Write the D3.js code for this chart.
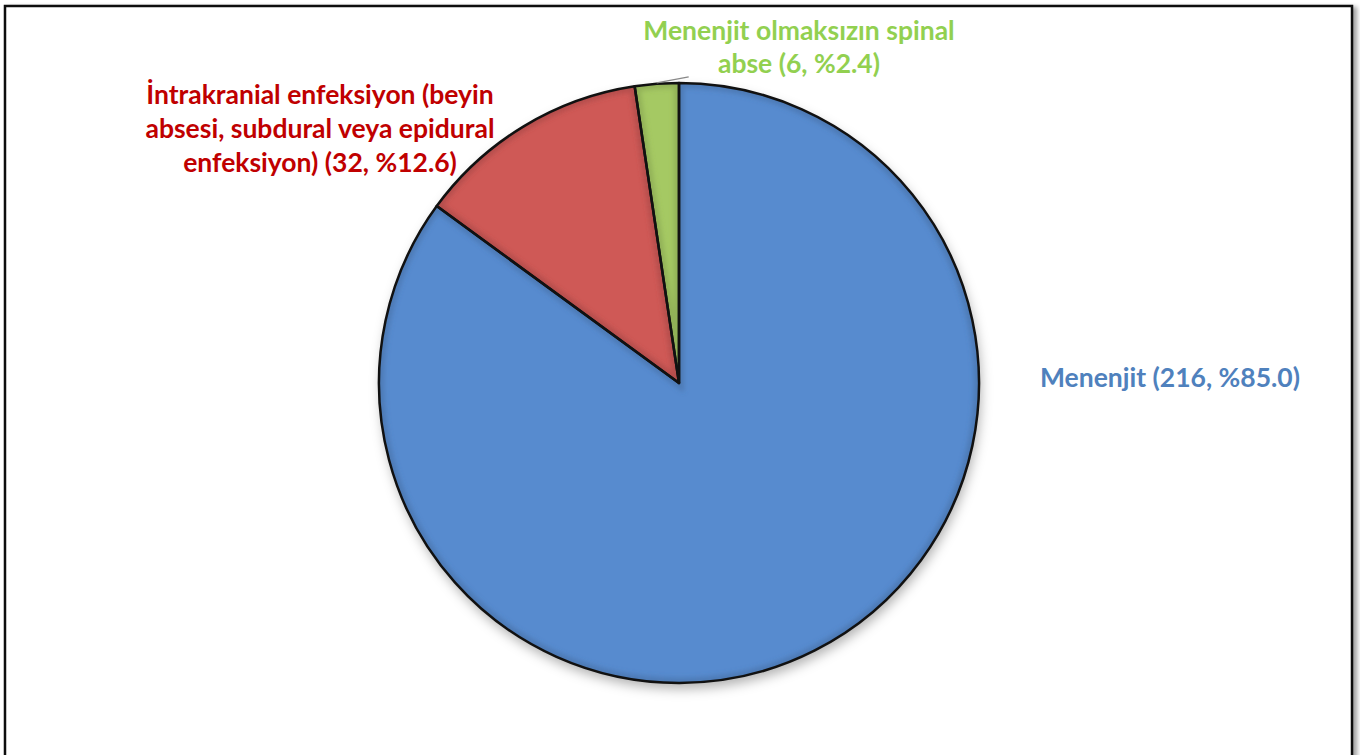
<!DOCTYPE html>
<html lang="tr">
<head>
<meta charset="utf-8">
<script src="https://d3js.org/d3.v7.min.js"></script>
<style>
  body { margin: 0; background: #fff; }
  .lbl { font-family: Lato, "Open Sans", sans-serif; font-weight: bold; font-size: 26.5px; }
</style>
</head>
<body>
<svg id="chart" width="1360" height="755"></svg>
<script>
  // data
  let categories = ["Menenjit", "İntrakranial enfeksiyon (beyin absesi, subdural veya epidural enfeksiyon)", "Menenjit olmaksızın spinal abse"]
  let counts = [216, 32, 6]
  let percents = ["85.0", "12.6", "2.4"]
  let labelLines = [
    ["Menenjit (216, %85.0)"],
    ["İntrakranial enfeksiyon (beyin", "absesi, subdural veya epidural", "enfeksiyon) (32, %12.6)"],
    ["Menenjit olmaksızın spinal", "abse (6, %2.4)"]
  ]
  let sliceColors = ["#578bcf", "#cf5956", "#a5c963"]
  let textColors = ["#4f81bd", "#c00000", "#92d050"]

  let svg = d3.select("#chart")
  let defs = svg.append("defs")

  // outer frame with shadow on the right
  let shadow = defs.append("filter").attr("id", "frameShadow").attr("x", "-5%").attr("y", "-5%").attr("width", "110%").attr("height", "110%")
  shadow.append("feDropShadow").attr("dx", 4).attr("dy", 2).attr("stdDeviation", 2).attr("flood-color", "#000").attr("flood-opacity", 0.35)
  svg.append("rect").attr("x", 5).attr("y", 6).attr("width", 1347).attr("height", 800)
    .attr("fill", "#fff").attr("stroke", "#111").attr("stroke-width", 2.5).attr("filter", "url(#frameShadow)")

  let pieShadow = defs.append("filter").attr("id", "pieShadow").attr("x", "-10%").attr("y", "-10%").attr("width", "120%").attr("height", "125%")
  pieShadow.append("feDropShadow").attr("dx", 2).attr("dy", 6).attr("stdDeviation", 6).attr("flood-color", "#000").attr("flood-opacity", 0.3)
  let soft = defs.append("filter").attr("id", "soft").attr("x", "-10%").attr("y", "-10%").attr("width", "120%").attr("height", "120%")
  soft.append("feGaussianBlur").attr("stdDeviation", 2.5)

  let cx = 679, cy = 383, r = 300
  let pie = d3.pie().sort(null).value(d => d)
  let arcs = pie(counts)
  let arcMaker = d3.arc().innerRadius(0).outerRadius(r)

  let g = svg.append("g").attr("transform", `translate(${cx}, ${cy})`)
  g.append("circle").attr("r", r).attr("fill", "#fff").attr("filter", "url(#pieShadow)")

  // slice bodies
  g.selectAll(".slice").data(arcs).enter().append("path").attr("class", "slice")
    .attr("d", arcMaker).attr("fill", (d, i) => sliceColors[i])
  // soft bevel inside each slice (clip paths share the group's coordinates)
  defs.selectAll(".clip").data(arcs).enter().append("clipPath").attr("class", "clip").attr("id", (d, i) => "clip" + i)
    .append("path").attr("d", arcMaker)
  g.selectAll(".bevel").data(arcs).enter().append("g").attr("class", "bevel")
    .attr("clip-path", (d, i) => `url(#clip${i})`)
    .append("path").attr("d", arcMaker).attr("fill", "none")
    .attr("stroke", (d, i) => d3.color(sliceColors[i]).darker(0.8)).attr("stroke-width", 10).attr("stroke-opacity", 0.5)
    .attr("filter", "url(#soft)")
  g.selectAll(".edge").data(arcs).enter().append("path").attr("class", "edge")
    .attr("d", arcMaker).attr("fill", "none").attr("stroke", "#111").attr("stroke-width", 2.5).attr("stroke-linejoin", "round")

  // leader line for the small slice
  let green = arcs[2]
  let mid = (green.startAngle + green.endAngle) / 2
  let p0 = [Math.sin(mid) * (r + 1), -Math.cos(mid) * (r + 1)]
  g.append("line").attr("x1", p0[0]).attr("y1", p0[1]).attr("x2", p0[0] + 32).attr("y2", p0[1] - 6)
    .attr("stroke", "#888").attr("stroke-width", 1.2)

  // labels
  let labelPos = [
    {x: 1170, y: 387, step: 0},
    {x: 320, y: 104, step: 34},
    {x: 799, y: 40, step: 33}
  ]
  labelLines.forEach((lines, i) => {
    let t = svg.append("text").attr("class", "lbl").attr("text-anchor", "middle")
      .attr("fill", textColors[i])
    lines.forEach((line, j) => {
      t.append("tspan").attr("x", labelPos[i].x).attr("y", labelPos[i].y + j * labelPos[i].step).text(line)
    })
  })
</script>
</body>
</html>
